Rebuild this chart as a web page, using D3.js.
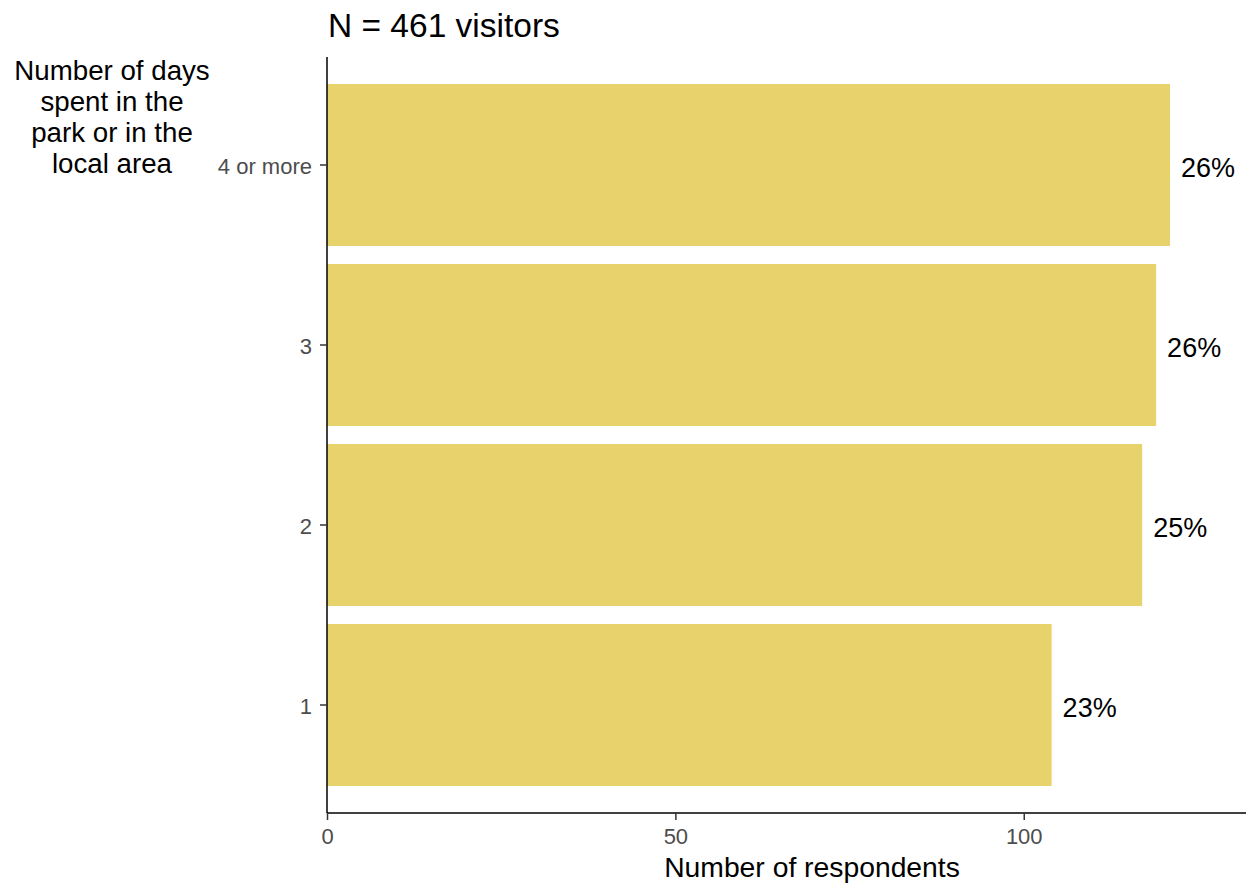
<!DOCTYPE html>
<html><head><meta charset="utf-8">
<script src="https://cdn.jsdelivr.net/npm/d3@7"></script>
<style>body{margin:0;background:#fff}svg{display:block;font-family:"Liberation Sans",Arial,sans-serif}</style>
</head><body>
<svg id="c" width="1246" height="884"></svg>
<script>
const categories = ["4 or more", "3", "2", "1"];
const counts = [121, 119, 117, 104];
const percentLabels = ["26%", "26%", "25%", "23%"];
const xTicks = [0, 50, 100];
const titleText = "N = 461 visitors";
const yTitleLines = ["Number of days", "spent in the", "park or in the", "local area"];
const xTitleText = "Number of respondents";

(function () {
const svg = d3.select("#c");
const pLeft = 327, pRight = 1246, pTop = 57, pBottom = 813;
const x = d3.scaleLinear().domain([0, 131.9]).range([pLeft, pRight]);
const y = d3.scaleBand().domain(categories).range([pTop, pBottom]).paddingInner(0.1).paddingOuter(0.15);

const data = categories.map((c, i) => ({c, v: counts[i], p: percentLabels[i]}));

svg.append("g").selectAll("rect").data(data).join("rect")
  .attr("x", x(0)).attr("y", d => y(d.c))
  .attr("width", d => x(d.v) - x(0)).attr("height", y.bandwidth())
  .attr("fill", "#E8D26B");

svg.append("g").selectAll("text").data(data).join("text")
  .attr("x", d => x(d.v) + 11).attr("y", d => y(d.c) + y.bandwidth()/2)
  .attr("dy", "0.43em").attr("font-size", 27).attr("fill", "#000")
  .text(d => d.p);

const xa = svg.append("g").attr("transform", `translate(0,${pBottom})`)
  .call(d3.axisBottom(x).tickValues(xTicks).tickSize(7).tickPadding(8));
const ya = svg.append("g").attr("transform", `translate(${pLeft},0)`)
  .call(d3.axisLeft(y).tickSize(7).tickPadding(8));
[xa, ya].forEach(a => {
  a.select(".domain").attr("stroke", "#000").attr("stroke-width", 1.5);
  a.selectAll(".tick line").attr("stroke", "#333").attr("stroke-width", 1.5);
  a.selectAll(".tick text").attr("fill", "#4D4D4D").attr("font-size", 22).attr("font-family", "Liberation Sans, Arial, sans-serif");
});
ya.selectAll(".tick text").attr("dy", "0.42em");
ya.select(".domain").attr("d", `M0,${pTop}V${pBottom}`);
xa.select(".domain").attr("d", `M${pLeft},0H${pRight}`);

svg.append("text").attr("x", pLeft + 1).attr("y", 37).attr("font-size", 33.5).attr("fill", "#000").text(titleText);

svg.append("g").selectAll("text").data(yTitleLines).join("text")
  .attr("x", 112).attr("y", (d, i) => 80 + i * 30.9)
  .attr("text-anchor", "middle").attr("font-size", 27.7).attr("fill", "#000").text(d => d);

svg.append("text").attr("x", 812).attr("y", 877).attr("text-anchor", "middle")
  .attr("font-size", 28.3).attr("fill", "#000").text(xTitleText);
})();
</script>
</body></html>
